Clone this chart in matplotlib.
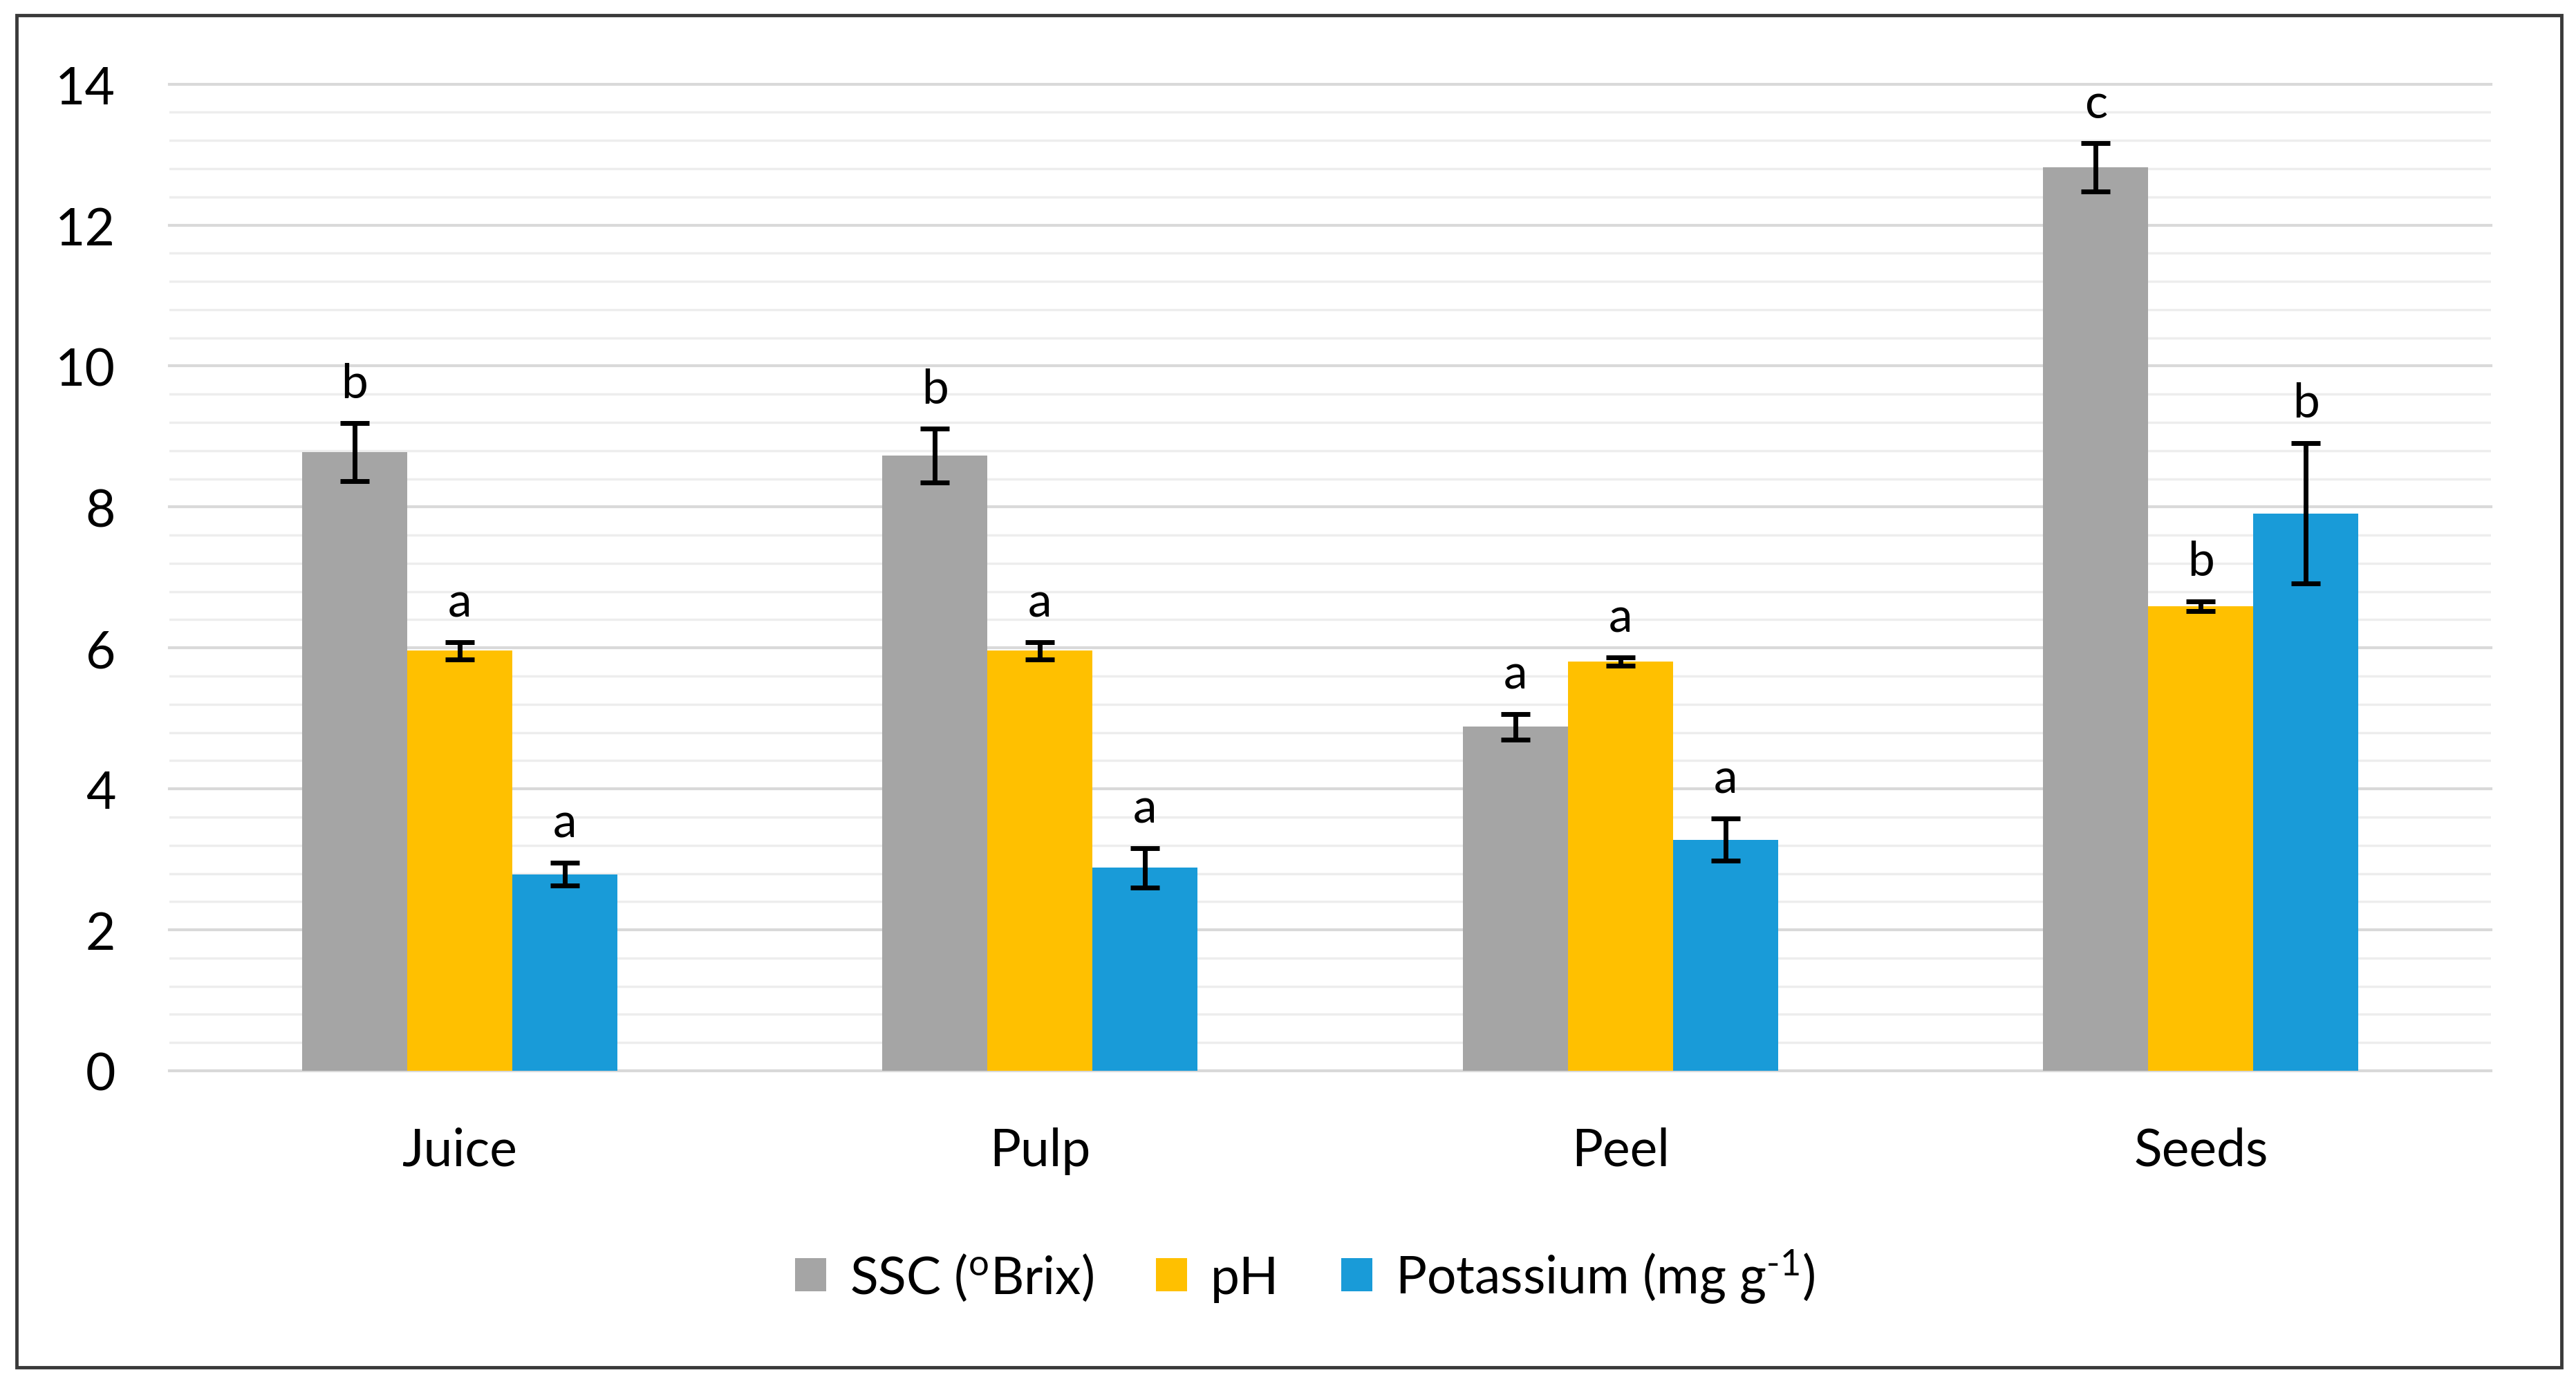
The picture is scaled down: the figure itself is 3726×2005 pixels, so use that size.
import matplotlib
matplotlib.use("Agg")
import matplotlib.pyplot as plt
from matplotlib.patches import Rectangle
import numpy as np

categories = ["Juice", "Pulp", "Peel", "Seeds"]
series_names = [r"SSC ($^{\mathrm{o}}$Brix)", "pH", r"Potassium (mg g$^{\text{-1}}$)"]
ssc = [8.78, 8.73, 4.88, 12.82]
ssc_err = [0.41, 0.38, 0.18, 0.34]
ph = [5.96, 5.96, 5.81, 6.59]
ph_err = [0.12, 0.12, 0.06, 0.07]
potassium = [2.79, 2.88, 3.28, 7.91]
potassium_err = [0.16, 0.28, 0.30, 1.00]
ssc_letters = ["b", "b", "a", "c"]
ph_letters = ["a", "a", "a", "b"]
potassium_letters = ["a", "a", "a", "b"]
yticks = [0, 2, 4, 6, 8, 10, 12, 14]

colors = ["#A5A5A5", "#FFC000", "#199BD8"]
values = [ssc, ph, potassium]
errors = [ssc_err, ph_err, potassium_err]
letters = [ssc_letters, ph_letters, potassium_letters]

FONT = "Lato"
plt.rcParams["font.family"] = [FONT, "DejaVu Sans"]
plt.rcParams["mathtext.fontset"] = "custom"
plt.rcParams["mathtext.rm"] = FONT
plt.rcParams["mathtext.it"] = FONT
plt.rcParams["mathtext.bf"] = FONT

W, H = 3726, 2006
fig = plt.figure(figsize=(W / 100, H / 100), dpi=100)
fig.patch.set_facecolor("white")

ax = fig.add_axes([245 / W, 1 - 1550 / H, (3603 - 245) / W, (1550 - 122.6) / H])
ax.set_facecolor("white")
ax.set_xlim(-0.5, 3.5)
ax.set_ylim(0, 14)

# gridlines
for v in np.arange(0.4, 14.0, 0.4):
    if abs(v / 2 - round(v / 2)) > 1e-6:
        ax.axhline(v, color="#EDEDED", lw=2.4, zorder=0.5)
for v in yticks:
    ax.axhline(v, color="#D9D9D9", lw=3.0, zorder=0.6, clip_on=False)

x = np.arange(len(categories))
bw = 0.181
for i in range(3):
    pos = x + (i - 1) * bw
    ax.bar(pos, values[i], width=bw, color=colors[i], zorder=2, label=series_names[i])
    ax.errorbar(pos, values[i], yerr=errors[i], fmt="none", ecolor="black",
                elinewidth=5, capsize=15, capthick=5, zorder=3)
    for j in range(len(categories)):
        ax.annotate(letters[i][j], (pos[j], values[i][j] + errors[i][j]),
                    xytext=(0, 27), textcoords="offset points",
                    ha="center", va="baseline", fontsize=50, color="black", zorder=4)

ax.set_xticks(x)
ax.set_xticklabels(categories, fontsize=54)
ax.set_yticks(yticks)
ax.set_yticklabels([str(t) for t in yticks], fontsize=54)
ax.tick_params(axis="both", length=0)
ax.tick_params(axis="y", pad=56)
ax.tick_params(axis="x", pad=58)
for s in ax.spines.values():
    s.set_visible(False)

handles = [Rectangle((0, 0), 1, 1, facecolor=c) for c in colors]
leg = fig.legend(handles, series_names, loc="center", bbox_to_anchor=(1888 / W, 1 - 1847 / H),
                 ncol=3, frameon=False, fontsize=54, handlelength=0.6, handleheight=0.6,
                 handletextpad=0.45, columnspacing=1.2)

# outer frame
fig.add_artist(Rectangle((24 / W, 1 - 1979 / H), (3705 - 24) / W, (1979 - 23) / H,
                         transform=fig.transFigure, fill=False, edgecolor="#3A3A3A", lw=3.5))

fig.savefig("out.png", dpi=100, facecolor="white")
